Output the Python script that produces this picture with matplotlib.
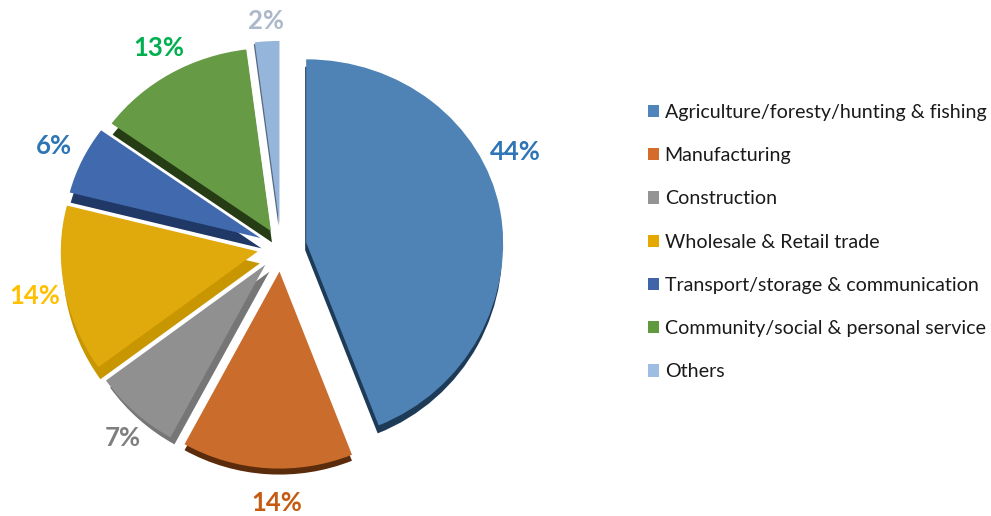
import matplotlib
matplotlib.use('Agg')
import matplotlib.pyplot as plt
from matplotlib.patches import Patch
import numpy as np

plt.rcParams['font.family'] = ['Lato', 'DejaVu Sans']

sectors = ['Agriculture/foresty/hunting & fishing', 'Manufacturing', 'Construction',
           'Wholesale & Retail trade', 'Transport/storage & communication',
           'Community/social & personal service', 'Others']
shares = [44, 14, 7, 14, 6, 13, 2]

top_colors = ['#4f83b5', '#c96c2c', '#909090', '#e0a90c', '#4169ae', '#669a44', '#95b5db']
side_colors = ['#1d3a57', '#5a2c0c', '#767676', '#c89600', '#203865', '#263c14', '#55687f']
label_colors = ['#2e75b6', '#c55a11', '#7f7f7f', '#ffc000', '#2e75b6', '#00b050', '#adb9ca']
legend_colors = ['#4f85ba', '#d46d2a', '#949494', '#e5a800', '#3f65a8', '#5f9a3f', '#9dbde3']

# extrusion offset of each slice in pixels (x, y down)
side_px = [(-1, 8), (0, 6), (4, 7), (2, 12), (1, 11), (1, 12), (-1, 2)]
label_px = [(515, 152), (277, 503), (123, 438), (35, 296), (54, 146), (159, 48), (266, 21)]

W, H = 991, 516
cx, cy, scale = 281, 247, 197
squash = 0.93


def forward(y):
    y = np.asarray(y, dtype=float)
    return np.where(y > 0, y * squash, y)


def inverse(y):
    y = np.asarray(y, dtype=float)
    return np.where(y > 0, y / squash, y)


fig = plt.figure(figsize=(W / 100, H / 100), dpi=100)
ax = fig.add_axes([0, 0, 1, 1])
explode = [0.13, 0.125, 0.12, 0.12, 0.115, 0.10, 0.125]

back, _ = ax.pie(shares, explode=explode, colors=side_colors, startangle=90, counterclock=False,
                 wedgeprops={'linewidth': 0})
for wedge, (dx, dy) in zip(back, side_px):
    x, y = wedge.center
    wedge.set_center((x + dx / scale, y - dy / scale))

ax.pie(shares, explode=explode, colors=top_colors, startangle=90, counterclock=False,
       wedgeprops={'linewidth': 0})

ax.set_aspect('auto')
ax.set_yscale('function', functions=(forward, inverse))
ax.set_xlim(-cx / scale, (W - cx) / scale)
ax.set_ylim(-(H - cy) / scale, cy / scale / squash)
ax.axis('off')

for share, color, (px, py) in zip(shares, label_colors, label_px):
    fig.text(px / W, 1 - py / H, f'{share}%', color=color, fontsize=18.5, fontweight='bold',
             ha='center', va='center')

handles = [Patch(color=c, linewidth=0) for c in legend_colors]
fig.legend(handles, sectors, loc='upper left', bbox_to_anchor=(642 / W, 1 - 98 / H), frameon=False,
           fontsize=14.1, handlelength=0.58, handleheight=0.58, handletextpad=0.28,
           labelspacing=1.34, labelcolor='#1a1a1a', borderpad=0.3, borderaxespad=0)

fig.savefig('out.png', dpi=100)
